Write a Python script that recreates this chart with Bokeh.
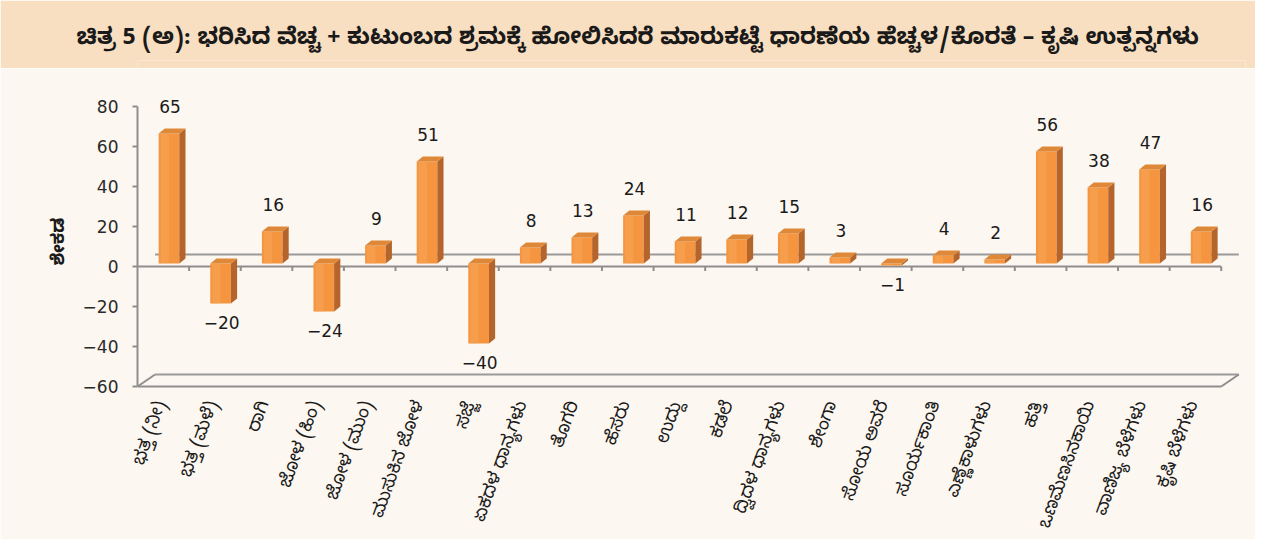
import math
from bokeh.plotting import figure
from bokeh.layouts import column
from bokeh.models import Range1d, FixedTicker
from bokeh.core.properties import value
from bokeh.embed import file_html
from bokeh.resources import INLINE

# ---------------- data ----------------
title_text = "ಚಿತ್ರ 5 (ಅ): ಭರಿಸಿದ ವೆಚ್ಚ + ಕುಟುಂಬದ ಶ್ರಮಕ್ಕೆ ಹೋಲಿಸಿದರೆ ಮಾರುಕಟ್ಟೆ ಧಾರಣೆಯ ಹೆಚ್ಚಳ/ಕೊರತೆ – ಕೃಷಿ ಉತ್ಪನ್ನಗಳು"
y_title = "ಶೇಕಡ"
categories = [
    "ಭತ್ತ (ನೀ)", "ಭತ್ತ (ಮಳೆ)", "ರಾಗಿ", "ಜೋಳ (ಹಿಂ)", "ಜೋಳ (ಮುಂ)",
    "ಮುಸುಕಿನ ಜೋಳ", "ಸಜ್ಜೆ", "ಏಕದಳ ಧಾನ್ಯಗಳು", "ತೊಗರಿ", "ಹೆಸರು",
    "ಉದ್ದು", "ಕಡಲೆ", "ದ್ವಿದಳ ಧಾನ್ಯಗಳು", "ಶೇಂಗಾ", "ಸೋಯ ಅವರೆ",
    "ಸೂರ್ಯಕಾಂತಿ", "ಎಣ್ಣೆಕಾಳುಗಳು", "ಹತ್ತಿ", "ಒಣಮೆಣಸಿನಕಾಯಿ",
    "ವಾಣಿಜ್ಯ ಬೆಳೆಗಳು", "ಕೃಷಿ ಬೆಳೆಗಳು",
]
values = [65, -20, 16, -24, 9, 51, -40, 8, 13, 24, 11, 12, 15, 3, -1, 4, 2, 56, 38, 47, 16]
y_ticks = [-60, -40, -20, 0, 20, 40, 60, 80]

# ---------------- style ----------------
BG = "#FCF7F0"
BANNER = "#F9DFC1"
FRONT = "#F5953F"
SIDE = "#B5652C"
TOP = "#DE8838"
AXIS = "#8E8E8E"
KF = "Noto Sans Kannada, Noto Sans, sans-serif"
NFONT = value("DejaVu Sans")

N = len(categories)
DX, DY = 0.34, 6.0          # depth of the chart floor/walls
BX0, BW = 0.41, 0.40        # bar front position inside category
BDX, BDY = 0.12, 2.5        # bar depth
BASE = 1.5

def fmt(v):
    return ("−" + str(abs(v))) if v < 0 else str(v)

# ---------------- banner ----------------
# the column aligns this figure's frame with the chart's frame (137..1245 px),
# so the title (drawn in the side panel) is shifted left with a negative offset
banner = figure(width=1255, height=68, x_range=Range1d(0, 1), y_range=Range1d(0, 1),
                toolbar_location=None, output_backend="svg", title=title_text,
                x_axis_location=None, y_axis_location=None,
                min_border_top=60, min_border_bottom=0, min_border_left=0, min_border_right=0)
banner.grid.visible = False
banner.outline_line_color = None
banner.background_fill_color = BANNER
banner.border_fill_color = BANNER
banner.title.align = "left"
banner.title.offset = -61
banner.title.standoff = 10
banner.title.text_font = KF
banner.title.text_font_size = "23px"
banner.title.text_font_style = "bold"
banner.title.text_color = "#1a1a1a"

# ---------------- chart ----------------
p = figure(width=1255, height=471, x_range=Range1d(0, 21.47), y_range=Range1d(-63, 88),
           toolbar_location=None, output_backend="svg",
           min_border_left=137, min_border_right=10, min_border_top=22, min_border_bottom=147)
p.background_fill_color = BG
p.border_fill_color = BG
p.outline_line_color = None
p.grid.visible = False

# back lines (0-level wall and floor back edge)
p.line(x=[DX, N + DX], y=[DY, DY], line_color="#9A9A9A", line_width=2)
p.line(x=[DX, N + DX], y=[-60 + DY, -60 + DY], line_color="#9A9A9A", line_width=2)
p.line(x=[0, N], y=[-60, -60], line_color=AXIS, line_width=2)
p.segment(x0=[0, N], y0=[-60, -60], x1=[DX, N + DX], y1=[-60 + DY, -60 + DY],
          line_color=AXIS, line_width=2)
# front zero line with category ticks
p.line(x=[0, N], y=[0, 0], line_color=AXIS, line_width=2)
p.segment(x0=list(range(1, N + 1)), y0=[0] * N, x1=list(range(1, N + 1)), y1=[-2.2] * N,
          line_color=AXIS, line_width=2)

# bars
x0 = [k + BX0 for k in range(N)]
x1 = [a + BW for a in x0]
tops = [max(v, 0) + BASE for v in values]
bots = [min(v, 0) + BASE for v in values]
p.quad(left=x0, right=x1, top=tops, bottom=bots, fill_color=FRONT, line_color=None)
p.quad(left=[a + 0.04 for a in x0], right=[a + 0.2 for a in x0], top=tops, bottom=bots,
       fill_color="#F9A95E", fill_alpha=0.45, line_color=None)
p.patches(xs=[[b, b, b + BDX, b + BDX] for b in x1],
          ys=[[lo, hi, hi + BDY, lo + BDY] for lo, hi in zip(bots, tops)],
          fill_color=SIDE, line_color=None)
p.patches(xs=[[a, b, b + BDX, a + BDX] for a, b in zip(x0, x1)],
          ys=[[hi, hi, hi + BDY, hi + BDY] for hi in tops],
          fill_color=TOP, line_color=None)

# value labels
lx = [a + 0.22 for a in x0]
pos = [i for i, v in enumerate(values) if v >= 0]
neg = [i for i, v in enumerate(values) if v < 0]
p.text(x=[lx[i] for i in pos], y=[tops[i] for i in pos], text=[fmt(values[i]) for i in pos],
       text_align="center", text_baseline="bottom", y_offset=-21,
       text_font=NFONT, text_font_size="17px", text_color="#1a1a1a")
p.text(x=[lx[i] for i in neg], y=[bots[i] for i in neg], text=[fmt(values[i]) for i in neg],
       text_align="center", text_baseline="top", y_offset=12,
       text_font=NFONT, text_font_size="17px", text_color="#1a1a1a")

# y axis
ya = p.yaxis[0]
ya.ticker = FixedTicker(ticks=y_ticks)
ya.bounds = (y_ticks[0], y_ticks[-1])
ya.major_label_overrides = {t: fmt(t) for t in y_ticks}
ya.axis_line_color = AXIS
ya.axis_line_width = 2
ya.major_tick_line_color = AXIS
ya.major_tick_line_width = 2
ya.major_tick_in = 0
ya.major_tick_out = 5
ya.minor_tick_line_color = None
ya.major_label_text_font = "DejaVu Sans"
ya.major_label_text_font_size = "17px"
ya.major_label_text_color = "#2a2a2a"
ya.major_label_standoff = 14
ya.axis_label = y_title
ya.axis_label_text_font = KF
ya.axis_label_text_font_style = "bold"
ya.axis_label_text_font_size = "18px"
ya.axis_label_text_color = "#1a1a1a"
ya.axis_label_standoff = 6

# x axis (category labels)
xa = p.xaxis[0]
xa.ticker = FixedTicker(ticks=[k + 0.5 for k in range(N)])
xa.major_label_overrides = {k + 0.5: c for k, c in enumerate(categories)}
xa.axis_line_color = None
xa.major_tick_line_color = None
xa.minor_tick_line_color = None
xa.major_label_orientation = math.radians(70)
xa.major_label_text_font = KF
xa.major_label_text_font_size = "18px"
xa.major_label_text_color = "#1a1a1a"
xa.major_label_standoff = 4

layout = column(banner, p, spacing=0)
open("out.html", "w").write(file_html(layout, INLINE))
